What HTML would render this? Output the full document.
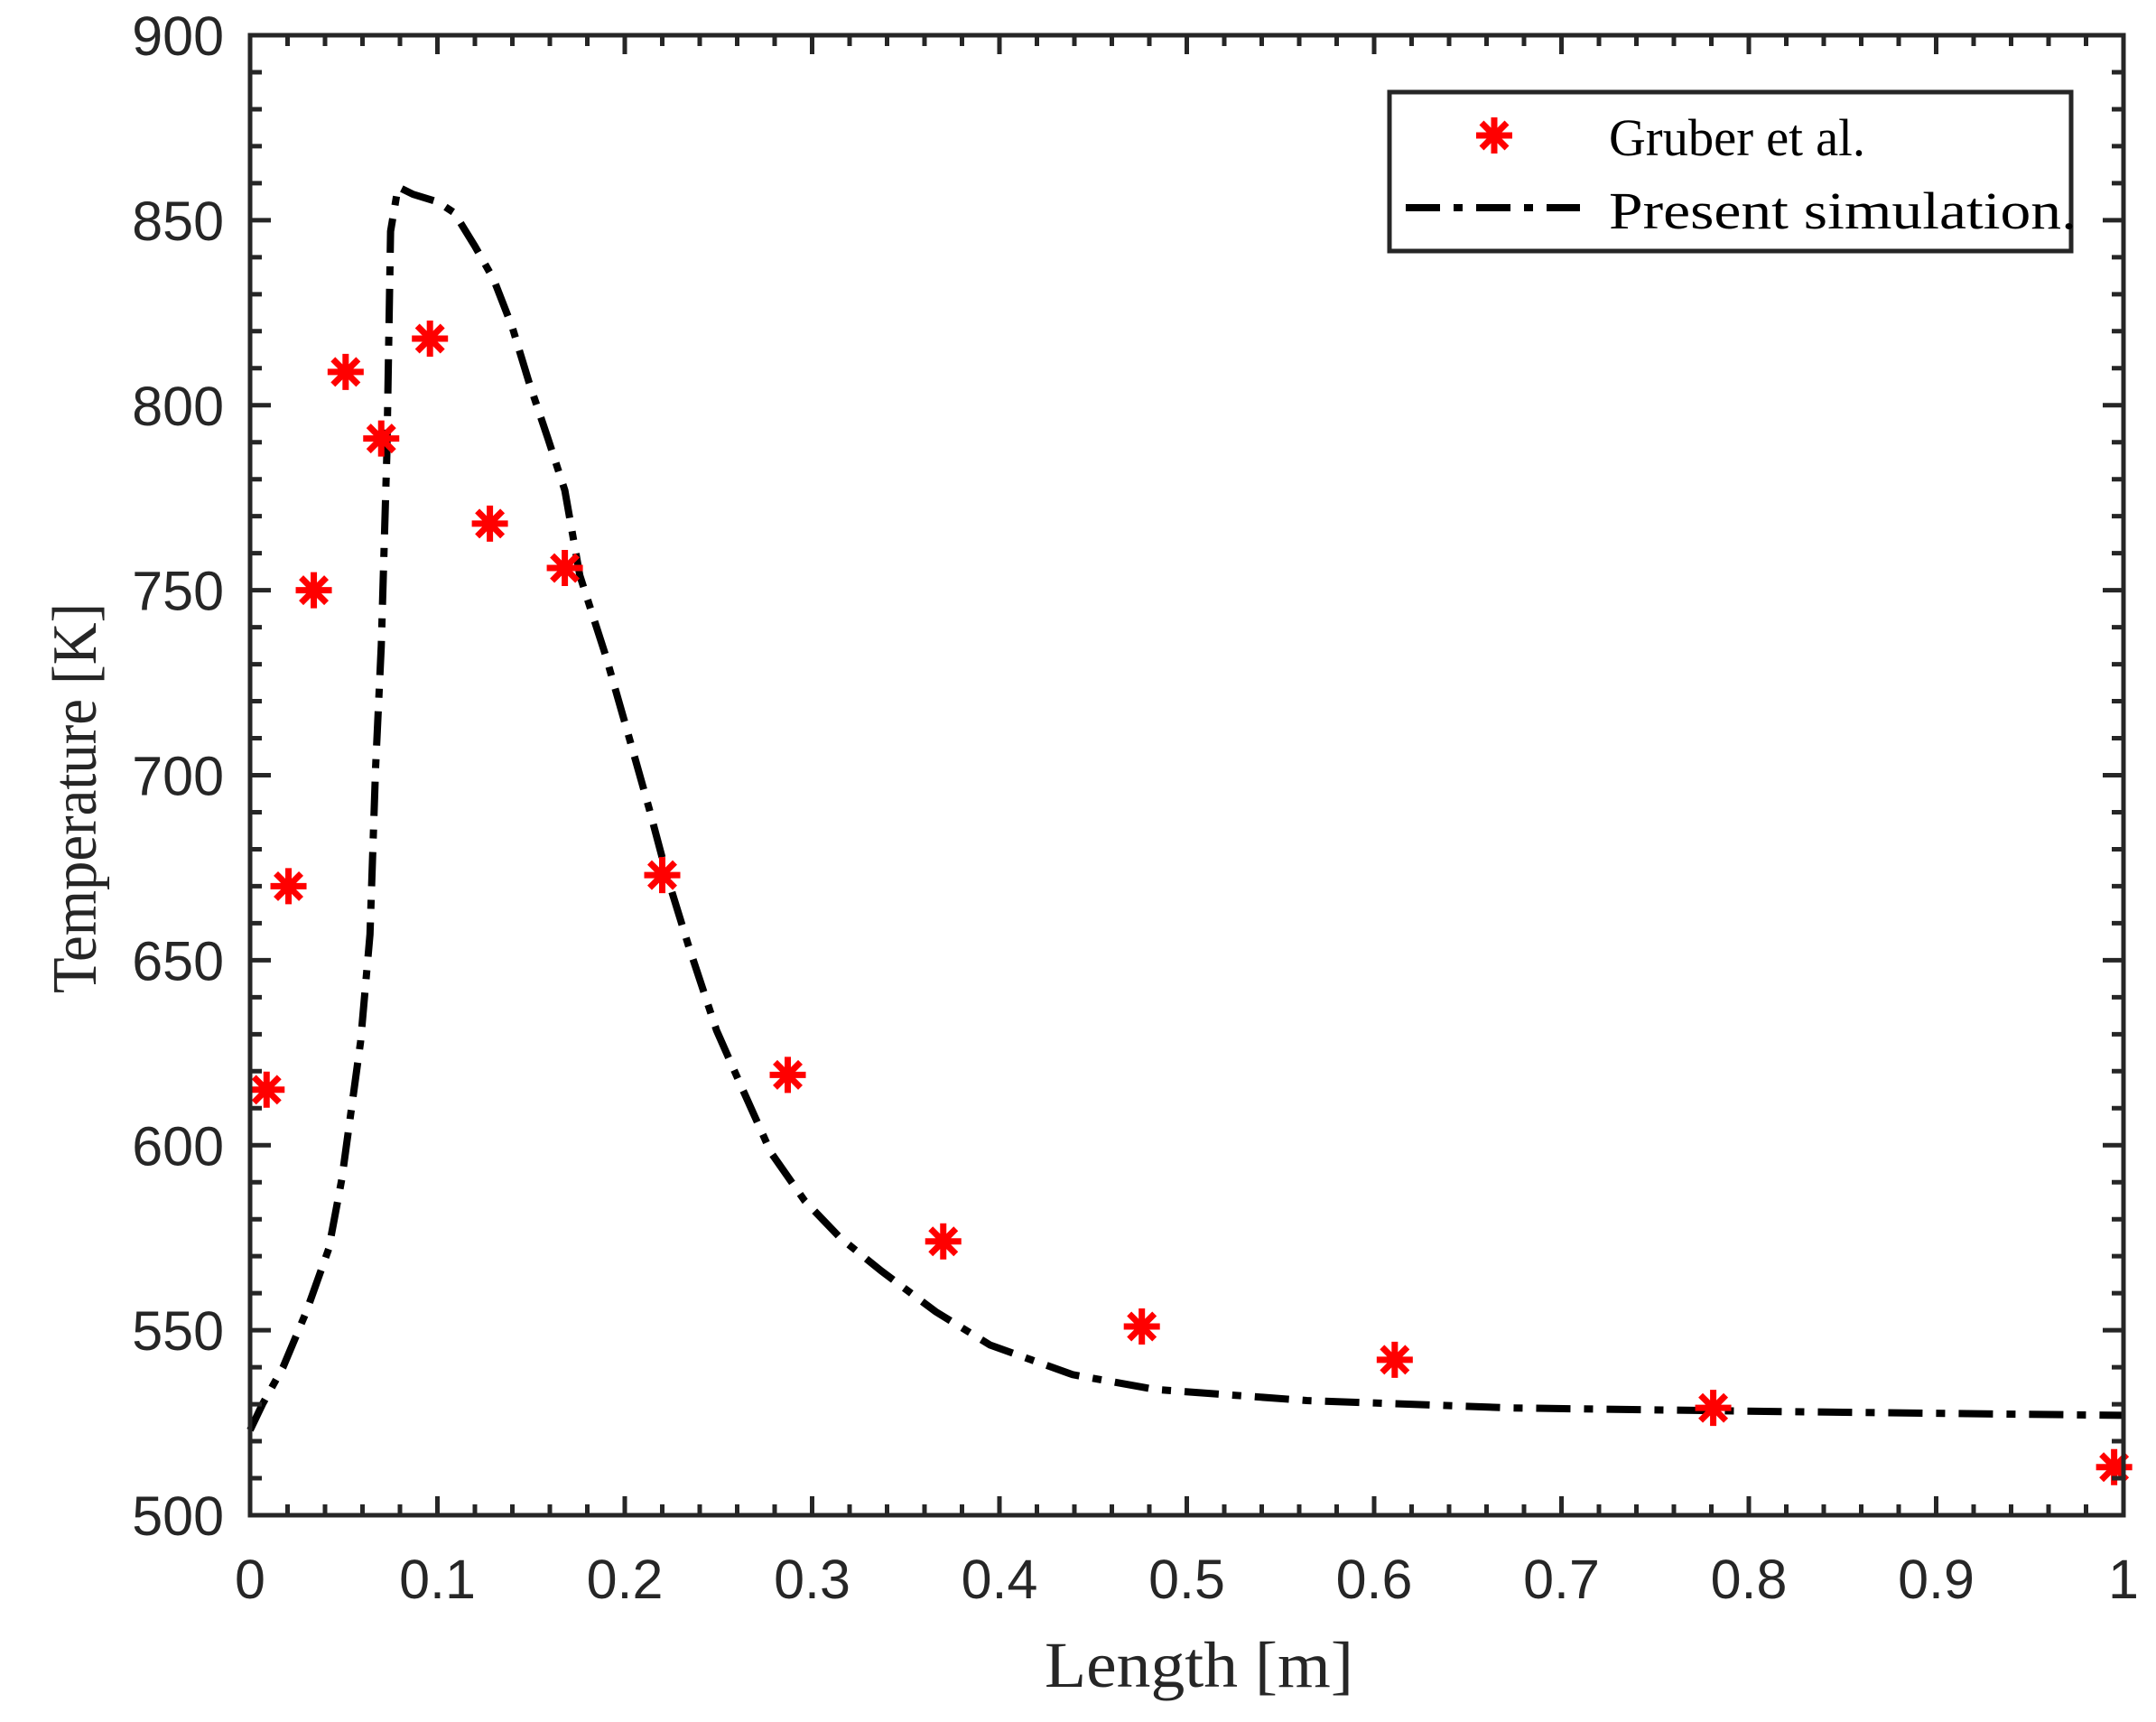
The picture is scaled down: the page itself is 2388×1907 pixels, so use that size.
<!DOCTYPE html>
<html><head><meta charset="utf-8"><style>html,body{margin:0;padding:0;background:#fff}svg{display:block}</style></head>
<body>
<svg id="chart" xmlns="http://www.w3.org/2000/svg" width="2388" height="1907" viewBox="0 0 2388 1907">
<rect x="0" y="0" width="2388" height="1907" fill="#fff"/>
<g id="marks"></g>
<g id="axes"></g>
<text x="1328" y="1868" font-family="Liberation Serif, serif" font-size="72" text-anchor="middle" textLength="342" lengthAdjust="spacingAndGlyphs" fill="#262626">Length [m]</text>
<text transform="translate(84,884) rotate(-90)" x="0" y="22" font-family="Liberation Serif, serif" font-size="70" text-anchor="middle" textLength="432" lengthAdjust="spacingAndGlyphs" fill="#262626">Temperature [K]</text>
<g>
<rect x="1539" y="102" width="755" height="176" fill="#fff" stroke="#262626" stroke-width="5"/>
<g id="legmarker"></g>
<text x="1782" y="172" font-family="Liberation Serif, serif" font-size="58" textLength="284" lengthAdjust="spacingAndGlyphs" fill="#000">Gruber et al.</text>
<line x1="1557" y1="230" x2="1750" y2="230" stroke="#000" stroke-width="8" stroke-dasharray="38,15,10,15"/>
<text x="1782" y="253" font-family="Liberation Serif, serif" font-size="58" textLength="518" lengthAdjust="spacingAndGlyphs" fill="#000">Present simulation.</text>
</g>
</svg>
<script>
const expX = [0.0088,0.0205,0.034,0.051,0.070,0.096,0.128,0.168,0.22,0.287,0.370,0.476,0.611,0.781,0.995];
const expY = [615,670,750,809,791,818,768,756,673,619,574,551,542,529,513];
const simX = [0,0.0066,0.0176,0.030,0.042,0.049,0.059,0.064,0.067,0.070,0.073,0.075,0.079,0.087,0.1,0.109,0.12,0.13,0.14,0.149,0.159,0.168,0.176,0.19,0.203,0.213,0.223,0.234,0.249,0.263,0.278,0.296,0.315,0.337,0.366,0.395,0.439,0.483,0.564,0.674,0.82,1.0];
const simY = [523,530,540,555,572,591,628,657,702,735,787,847,859,857,855,852,843,834,821,806,791,777,754,732,709,691,672,654,631,615,598,585,575,566,555,546,538,534,531,529,528,527];
const xTicks = [0,0.1,0.2,0.3,0.4,0.5,0.6,0.7,0.8,0.9,1];
const xTickLabels = ["0","0.1","0.2","0.3","0.4","0.5","0.6","0.7","0.8","0.9","1"];
const yTicks = [500,550,600,650,700,750,800,850,900];
const yTickLabels = ["500","550","600","650","700","750","800","850","900"];

const L=277,R=2352,T=39,B=1678;
const xs=v=>L+(v-0)/(1-0)*(R-L);
const ys=v=>B-(v-500)/(900-500)*(B-T);
const NS="http://www.w3.org/2000/svg";
function mk(tag,attrs,parent){const e=document.createElementNS(NS,tag);for(const k in attrs)e.setAttribute(k,attrs[k]);parent.appendChild(e);return e;}
const marks=document.getElementById('marks');
const axes=document.getElementById('axes');

let d=simX.map((x,i)=>(i?'L':'M')+xs(x).toFixed(1)+','+ys(simY[i]).toFixed(1)).join(' ');
const path=mk('path',{d:d,fill:'none',stroke:'#000','stroke-width':8,'stroke-dasharray':'38,15,10,15'},marks);



function star(cx,cy,g){
  const r=20;
  const p=`M${cx-r},${cy}H${cx+r}M${cx},${cy-r}V${cy+r}M${cx-r*0.7},${cy-r*0.7}L${cx+r*0.7},${cy+r*0.7}M${cx-r*0.7},${cy+r*0.7}L${cx+r*0.7},${cy-r*0.7}`;
  return mk('path',{d:p,stroke:'#ff0000','stroke-width':7,fill:'none'},g);
}
expX.forEach((x,i)=>{
  const s=star(xs(x),ys(expY[i]),marks);
  
  
});
const lm=star(1655,150,document.getElementById('legmarker'));



const fr=mk('rect',{x:L,y:T,width:R-L,height:B-T,fill:'none',stroke:'#262626','stroke-width':5},axes);


let td='';
for(let i=0;i<=50;i++){const v=i*0.02;const x=xs(v);const len=(i%5===0)?21:12;td+=`M${x},${B}V${B-len}M${x},${T}V${T+len}`;}
for(let i=0;i<=40;i++){const v=500+i*10;const y=ys(v);const len=(i%5===0)?23:13;td+=`M${L},${y}H${L+len}M${R},${y}H${R-len}`;}
const tk=mk('path',{d:td,stroke:'#262626','stroke-width':5,fill:'none'},axes);


xTicks.forEach((v,i)=>{
  const t=mk('text',{x:xs(v),y:1770,'font-family':'Liberation Sans, sans-serif','font-size':61,'text-anchor':'middle',fill:'#262626'},axes);
  t.textContent=xTickLabels[i];
  
  
});
yTicks.forEach((v,i)=>{
  const t=mk('text',{x:248,y:ys(v)+22,'font-family':'Liberation Sans, sans-serif','font-size':61,'text-anchor':'end',fill:'#262626'},axes);
  t.textContent=yTickLabels[i];
  
  
});
</script>
</body></html>
